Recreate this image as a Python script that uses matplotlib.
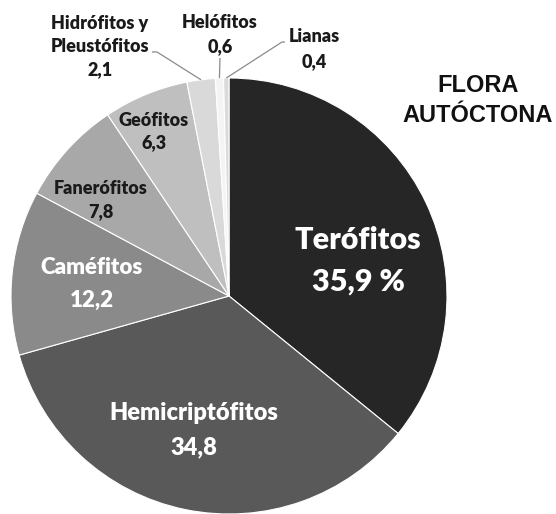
import numpy as np
import matplotlib
matplotlib.use("Agg")
import matplotlib.pyplot as plt

# ---- data ----
categories = ["Terófitos", "Hemicriptófitos", "Caméfitos", "Fanerófitos",
              "Geófitos", "Hidrófitos y\nPleustófitos", "Helófitos", "Lianas"]
values = [35.9, 34.8, 12.2, 7.8, 6.3, 2.1, 0.6, 0.4]
value_labels = ["35,9 %", "34,8", "12,2", "7,8", "6,3", "2,1", "0,6", "0,4"]
title_lines = ["FLORA", "AUTÓCTONA"]

# ---- styling ----
colors = ["#262626", "#595959", "#8a8a8a", "#a8a8a8", "#bfbfbf",
          "#d9d9d9", "#f4f4f4", "#dadada"]
text_colors = ["white", "white", "white", "#1a1a1a", "#1a1a1a",
               "#1a1a1a", "#1a1a1a", "#1a1a1a"]
font_sizes = [22, 17, 16, 13, 13, 13, 13, 13]
# label x centre and y centre of every line, in pixel coords (y from top)
label_x = [358, 194, 92, 101, 154, 100, 220, 314]
label_line_y = [[240, 282], [413, 447], [268, 300], [189, 212], [120, 143],
                [23, 47, 70], [23, 47], [37, 62]]
# leader lines: (start x, start y, elbow x) in pixel coords; None = no leader
leaders = [None, None, None, None, None, (152, 52, 157), (220, 58, 220), (285, 42, 282)]

W, H = 556, 514
fig = plt.figure(figsize=(W / 100, H / 100), dpi=100)
ax = fig.add_axes([0, 0, 1, 1])
ax.axis("off")

cx, cy, R = 229, H - 296, 218
wedges, _ = ax.pie(values, colors=colors, startangle=90, counterclock=False,
                   center=(cx, cy), radius=R,
                   wedgeprops=dict(edgecolor="white", linewidth=0.8))
ax.set_xlim(0, W)
ax.set_ylim(0, H)
ax.set_aspect("equal")

FONT = ["Lato", "DejaVu Sans"]
for i, (name, val) in enumerate(zip(categories, value_labels)):
    lines = name.split("\n") + [val]
    for line, y in zip(lines, label_line_y[i]):
        ax.text(label_x[i], H - y, line, ha="center", va="center",
                fontsize=font_sizes[i], fontweight="heavy", color=text_colors[i],
                family=FONT)
    if leaders[i] is not None:
        sx, sy, ex = leaders[i]
        w = wedges[i]
        mid = np.deg2rad((w.theta1 + w.theta2) / 2)
        px = w.center[0] + w.r * np.cos(mid)
        py = w.center[1] + w.r * np.sin(mid)
        ax.plot([sx, ex, px], [H - sy, H - sy, py], color="#8a8a8a", lw=0.9,
                solid_capstyle="butt")

for line, y in zip(title_lines, [86, 115]):
    ax.text(478, H - y, line, ha="center", va="center", fontsize=17,
            fontweight="bold", family=["Liberation Sans", "DejaVu Sans"],
            color="#111111")

fig.savefig("out.png", dpi=100)
